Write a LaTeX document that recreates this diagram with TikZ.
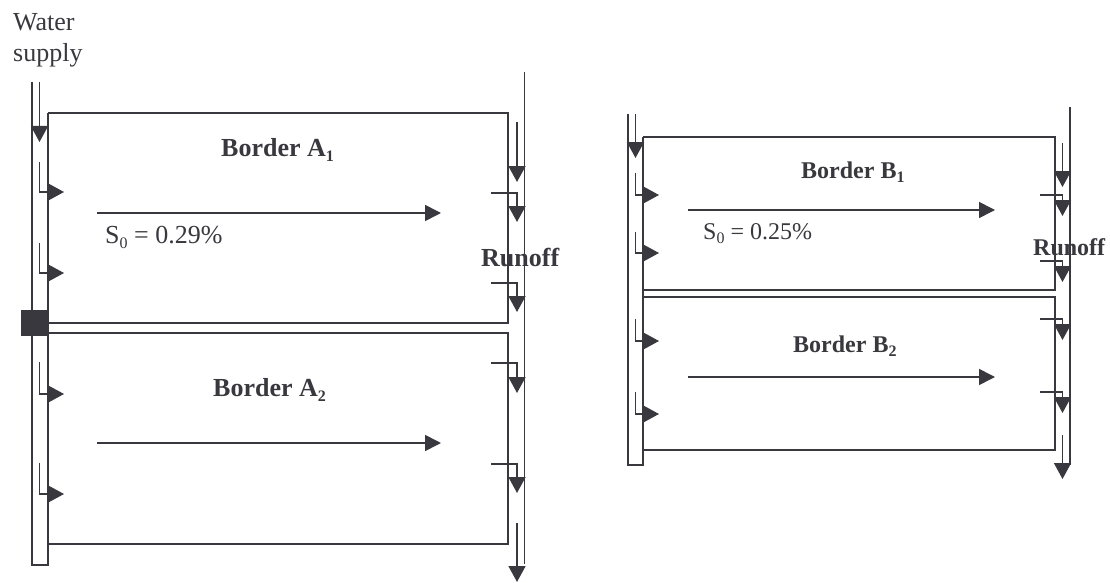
\documentclass[tikz,border=0pt]{standalone}
\usepackage{fontspec}
\setmainfont{Liberation Serif}
\usetikzlibrary{arrows.meta}
\definecolor{ink}{HTML}{38383E}
\tikzset{
  wall/.style={draw=ink,line width=1.7pt},
  flow/.style={draw=ink,line width=1.6pt,-{Triangle[length=16pt,width=17pt]}},
  longflow/.style={draw=ink,line width=1.6pt,-{Triangle[length=16pt,width=16pt]}},
  lab/.style={text=ink,inner sep=0pt,anchor=base west,font=\fontsize{26}{26}\selectfont},
  blab/.style={text=ink,inner sep=0pt,anchor=base west,font=\fontsize{24}{24}\bfseries\selectfont},
  alab/.style={text=ink,inner sep=0pt,anchor=base west,font=\fontsize{26}{26}\bfseries\selectfont},
  slab/.style={text=ink,inner sep=0pt,anchor=base west,font=\fontsize{24}{24}\selectfont},
}
\newcommand{\subz}[1]{\raisebox{-0.2em}{\fontsize{16}{16}\selectfont #1}}
% inlet branch: x of stem, y start, y bend, x of wall
\newcommand{\inlet}[4]{\draw[wall,line width=1.5pt] (#1,#2) -- (#1,#3) -- (#4,#3);
  \draw[flow] (#4,#3) -- ++(16,0);}
% outlet branch: x start, y of branch, x of stem, y of tip
\newcommand{\outlet}[4]{\draw[wall,line width=1.5pt] (#1,#2) -- (#3,#2) -- (#3,#4-14);
  \draw[flow] (#3,#4-16) -- (#3,#4);}
\begin{document}
\begin{tikzpicture}[x=1pt,y=-1pt]
\useasboundingbox[fill=white] (0,0) rectangle (1110,583);
% --- Fields A ---
\coordinate (aTL) at (48,113); \coordinate (aTR) at (508,113);
\coordinate (aBR) at (508,323); \coordinate (aBL) at (48,323);
\coordinate (cTL) at (48,333); \coordinate (cTR) at (508,333);
\coordinate (cBR) at (508,544); \coordinate (cBL) at (48,544);
\draw[wall] (aBL) -- (aBR) -- (aTR) -- (aTL);
\draw[wall] (cBL) -- (cBR) -- (cTR) -- (cTL);
\coordinate (sa1) at (32,82); \coordinate (sa2) at (32,565);
\coordinate (sa3) at (48,565);
\draw[wall] (sa1) -- (sa2) -- (sa3) -- (aTL);
\coordinate (ra1) at (524.5,72); \coordinate (ra2) at (524.5,564);
\draw[wall] (ra1) -- (ra2);
\node[fill=ink,minimum width=26pt,minimum height=26pt,inner sep=0pt] (gate) at (34,323) {};
\coordinate (ia1) at (39.5,82); \coordinate (ia2) at (39.5,142);
\draw[flow] (ia1) -- (ia2);
\inlet{39.5}{162}{192}{48}
\inlet{39.5}{243}{273}{48}
\inlet{39.5}{362}{394}{48}
\inlet{39.5}{463}{494}{48}
\coordinate (oa1) at (517,122); \coordinate (oa2) at (517,182);
\draw[flow] (oa1) -- (oa2);
\outlet{491}{193}{517}{222}
\outlet{491}{283}{517}{312}
\outlet{491}{363}{517}{393}
\outlet{491}{464}{517}{493}
\coordinate (oa3) at (517,523); \coordinate (oa4) at (517,582);
\draw[flow] (oa3) -- (oa4);
\coordinate (fa1) at (97,213); \coordinate (fa2) at (441,213);
\coordinate (fa3) at (97,443); \coordinate (fa4) at (441,443);
\draw[longflow] (fa1) -- (fa2);
\draw[longflow] (fa3) -- (fa4);
% --- Fields B ---
\coordinate (bTL) at (643,137); \coordinate (bTR) at (1055,137);
\coordinate (bBR) at (1055,290); \coordinate (bBL) at (643,290);
\coordinate (dTL) at (643,297); \coordinate (dTR) at (1055,297);
\coordinate (dBR) at (1055,450); \coordinate (dBL) at (643,450);
\draw[wall] (bBL) -- (bBR) -- (bTR) -- (bTL);
\draw[wall] (dBL) -- (dBR) -- (dTR) -- (dTL);
\coordinate (sb1) at (628,114); \coordinate (sb2) at (628,465);
\coordinate (sb3) at (643,465);
\draw[wall] (sb1) -- (sb2) -- (sb3) -- (bTL);
\coordinate (rb1) at (1070,107); \coordinate (rb2) at (1070,465);
\draw[wall] (rb1) -- (rb2);
\coordinate (ib1) at (635.5,114); \coordinate (ib2) at (635.5,158);
\draw[flow] (ib1) -- (ib2);
\inlet{635.5}{173}{195}{643}
\inlet{635.5}{232}{253}{643}
\inlet{635.5}{319}{341}{643}
\inlet{635.5}{392}{414}{643}
\coordinate (ob1) at (1062.5,143); \coordinate (ob2) at (1062.5,187);
\draw[flow] (ob1) -- (ob2);
\outlet{1040}{195}{1062.5}{216}
\outlet{1040}{261}{1062.5}{282}
\outlet{1040}{319}{1062.5}{340}
\outlet{1040}{392}{1062.5}{413}
\coordinate (ob3) at (1062.5,435); \coordinate (ob4) at (1062.5,479);
\draw[flow] (ob3) -- (ob4);
\coordinate (fb1) at (688,210); \coordinate (fb2) at (995,210);
\coordinate (fb3) at (688,377); \coordinate (fb4) at (995,377);
\draw[longflow] (fb1) -- (fb2);
\draw[longflow] (fb3) -- (fb4);
% --- Labels ---
\node[lab] (t1) at (13,31) {Water};
\node[lab] (t2) at (13,62) {supply};
\node[alab] (t3) at (221,156) {Border A\subz{1}};
\node[alab] (t4) at (213,396) {Border A\subz{2}};
\node[alab] (t5) at (481,266) {Runoff};
\node[lab] (t6) at (105,243) {S\subz{0} = 0.29\%};
\node[blab] (t7) at (801,178) {Border B\subz{1}};
\node[blab] (t8) at (793,352) {Border B\subz{2}};
\node[blab] (t9) at (1033,255) {Runoff};
\node[slab] (t10) at (703,239) {S\subz{0} = 0.25\%};
\end{tikzpicture}
\end{document}
